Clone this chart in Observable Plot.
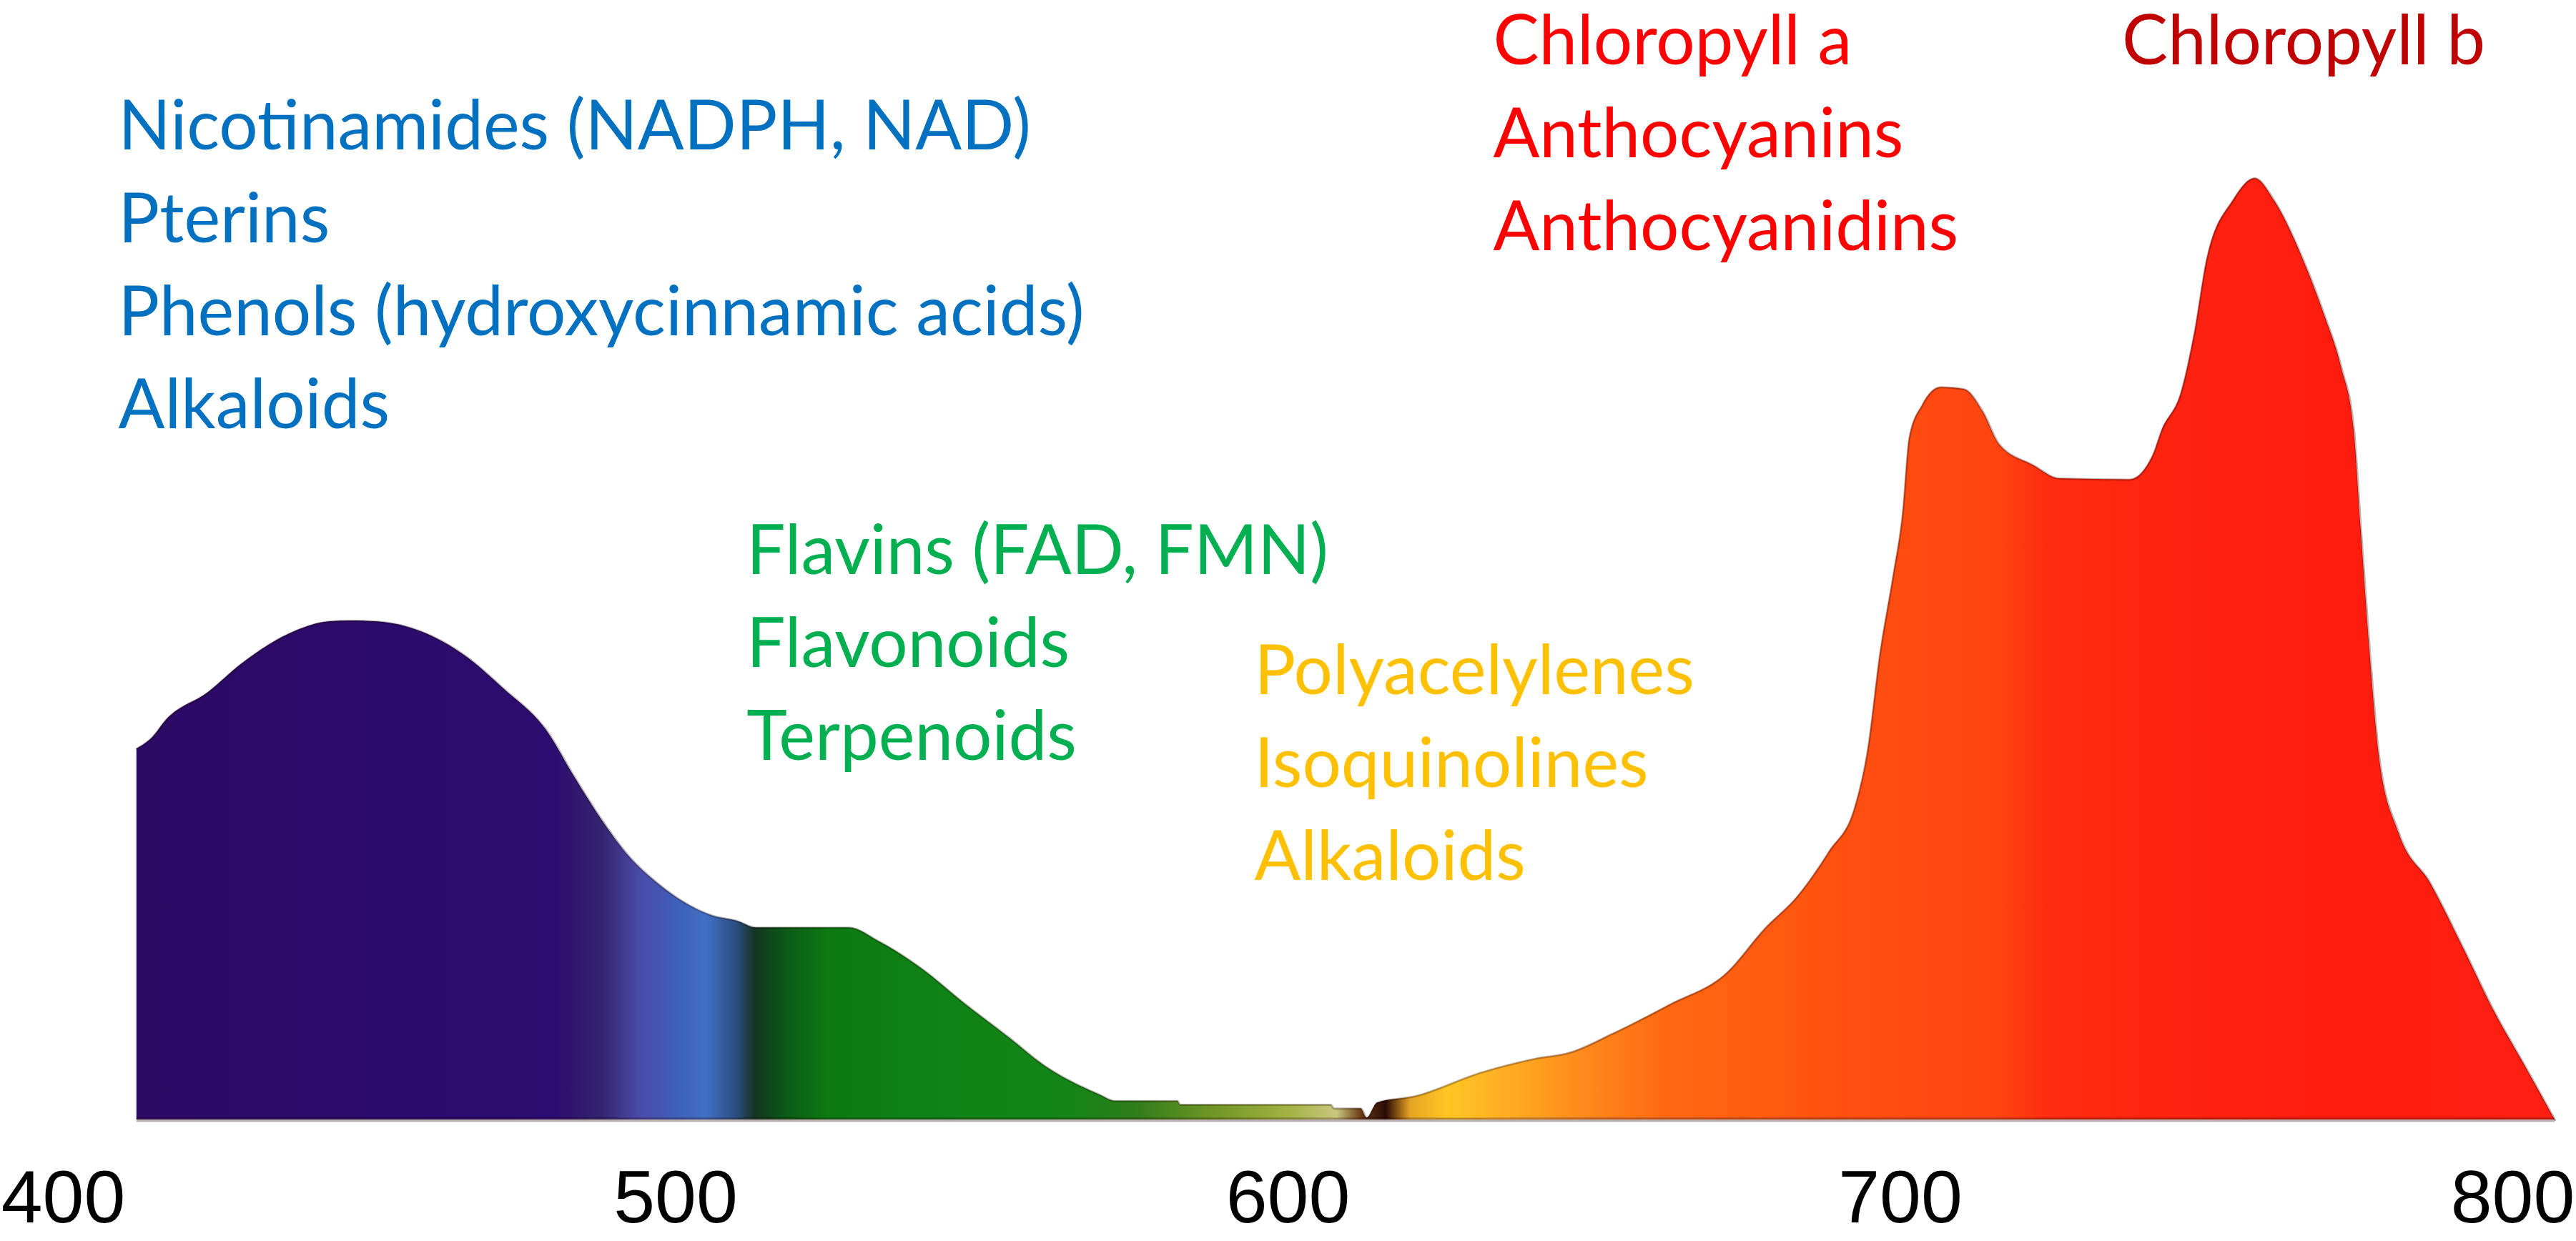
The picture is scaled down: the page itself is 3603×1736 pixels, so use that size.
<!DOCTYPE html>
<html>
<head>
<meta charset="utf-8">
<script src="https://cdn.jsdelivr.net/npm/d3@7"></script>
<script src="https://cdn.jsdelivr.net/npm/@observablehq/plot@0.6"></script>
<style>
  html, body { margin: 0; padding: 0; background: #ffffff; }
  #chart svg { display: block; }
</style>
</head>
<body>
<div id="chart"></div>
<script>
// ---- Data ----
const wavelength = [412.0, 414.7, 416.6, 423.7, 429.1, 437.9, 443.3, 447.0, 451.4, 465.6, 471.9, 479.1, 483.5, 488.0, 492.5, 496.9, 505.9, 510.1, 513.1, 528.3, 533.3, 540.5, 546.7, 554.7, 560.1, 569.1, 571.8, 582.0, 582.4, 607.0, 607.5, 611.9, 612.9, 614.6, 620.8, 631.5, 640.5, 645.9, 652.9, 662.3, 671.7, 677.9, 683.2, 688.4, 692.6, 694.7, 696.7, 698.8, 700.4, 701.5, 703.6, 706.6, 710.4, 713.5, 716.1, 721.8, 726.0, 737.5, 741.2, 742.7, 745.9, 748.0, 750.1, 754.3, 757.9, 761.1, 765.7, 769.3, 772.0, 774.1, 775.2, 776.7, 778.2, 781.4, 786.6, 791.9, 797.0, 802.3, 806.9];
const intensity = [39.4, 40.7, 42.3, 45.4, 48.4, 51.9, 52.9, 53.0, 52.9, 49.3, 45.8, 41.2, 36.4, 31.8, 27.9, 25.2, 21.7, 21.1, 20.4, 20.4, 18.9, 15.9, 12.6, 8.6, 5.8, 2.7, 2.0, 2.0, 1.6, 1.6, 1.2, 1.2, 0.2, 1.8, 2.5, 5.0, 6.5, 7.1, 9.1, 12.2, 15.6, 20.3, 23.7, 28.5, 33.2, 39.3, 49.5, 57.6, 64.4, 72.5, 75.9, 77.8, 77.6, 75.2, 71.8, 69.5, 68.1, 68.0, 70.5, 73.2, 77.3, 83.4, 91.5, 97.6, 100, 97.6, 91.5, 85.4, 80.0, 73.2, 63.0, 49.5, 38.6, 30.5, 25.1, 18.3, 11.5, 5.4, 0];

// spectral colour along wavelength
const stopNm    = [412, 480, 488, 494, 500, 505, 510, 513, 518, 525, 545, 565, 575, 588, 600, 608, 612, 616, 620, 626, 636, 648, 662, 690, 716, 724, 745, 770, 807];
const stopColor = ["#2c0a66", "#2c0c70", "#34246f", "#4a4aa8", "#3e5fb8", "#4070c4", "#2c4c80", "#143422", "#0b5a16", "#0c7a12", "#108316", "#148416", "#2e7c1a", "#709626", "#a2b242", "#c8c77e", "#6a3a14", "#2a0a06", "#e6a424", "#ffc624", "#ffac22", "#ff8a1c", "#ff6812", "#ff5010", "#ff4410", "#ff2c10", "#ff2210", "#ff1c0e", "#ff1e12"];

const tickValues = [400, 500, 600, 700, 800];

// annotation groups
const groupColor = ["#0070c0", "#00b050", "#ffc000", "#ff0000", "#c00000"];
const groupLines = [
  ["Nicotinamides (NADPH, NAD)", "Pterins", "Phenols (hydroxycinnamic acids)", "Alkaloids"],
  ["Flavins (FAD, FMN)", "Flavonoids", "Terpenoids"],
  ["Polyacelylenes", "Isoquinolines", "Alkaloids"],
  ["Chloropyll a", "Anthocyanins", "Anthocyanidins"],
  ["Chloropyll b"]
];
const groupNm = [409.0, 511.6, 594.5, 633.5, 736.2];
const groupLevel = [103.1, 58.0, 45.2, 112.1, 112.1];

// ---- Build ----
const spectrum = wavelength.map((w, i) => ({w, v: intensity[i]}));
const labelRows = [];
groupLines.forEach((lines, g) => lines.forEach((t, i) => labelRows.push({text: t, g, i, x: groupNm[g], y: groupLevel[g], color: groupColor[g]})));

const LINE_STEP = 130;
const textMarks = [0, 1, 2, 3].map(i => Plot.text(labelRows.filter(d => d.i === i), {
  x: "x", y: "y", text: "text", fill: "color",
  textAnchor: "start", lineAnchor: "bottom", dy: i * LINE_STEP,
  fontFamily: "Lato", fontSize: 96
}));

const chart = Plot.plot({
  width: 3603,
  height: 1736,
  marginLeft: 88,
  marginRight: 89,
  marginTop: 249,
  marginBottom: 170,
  style: {background: "#ffffff", overflow: "visible"},
  x: {domain: [400, 800]},
  y: {domain: [0, 100], axis: null},
  marks: [
    Plot.areaY(spectrum, {x: "w", y: "v", fill: "url(#specGrad)", curve: "monotone-x"}),
    Plot.line(spectrum, {x: "w", y: "v", stroke: "#1a0000", strokeOpacity: 0.28, strokeWidth: 3, curve: "monotone-x"}),
    Plot.ruleY([0], {x1: wavelength[0], x2: wavelength[wavelength.length - 1], stroke: "#200000", strokeOpacity: 0.3, strokeWidth: 6}),
    Plot.axisX({ticks: tickValues, tickSize: 0, tickPadding: 70, tickFormat: d => String(d), label: null,
                fontSize: 104, fontFamily: "Liberation Sans, Arial, sans-serif", fill: "#000"}),
    ...textMarks
  ]
});

// gradient definition placed in the chart's SVG, positioned by the x scale
const xs = chart.scale("x");
const x1 = xs.apply(stopNm[0]);
const x2 = xs.apply(stopNm[stopNm.length - 1]);
const svg = d3.select(chart);
const grad = svg.insert("defs", ":first-child")
  .append("linearGradient")
  .attr("id", "specGrad")
  .attr("gradientUnits", "userSpaceOnUse")
  .attr("x1", x1).attr("x2", x2).attr("y1", 0).attr("y2", 0);
stopNm.forEach((nm, i) => {
  grad.append("stop")
    .attr("offset", ((xs.apply(nm) - x1) / (x2 - x1)).toFixed(4))
    .attr("stop-color", stopColor[i]);
});

document.getElementById("chart").appendChild(chart);
</script>
</body>
</html>
